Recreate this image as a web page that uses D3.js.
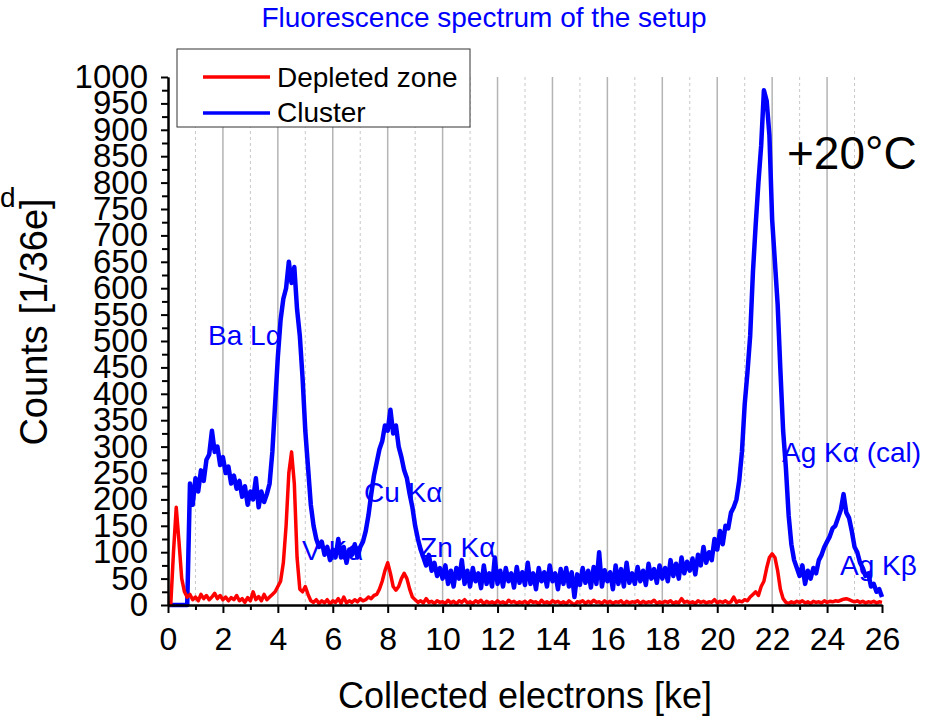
<!DOCTYPE html>
<html><head><meta charset="utf-8">
<script src="https://cdn.jsdelivr.net/npm/d3@7"></script>
<style>
body{margin:0;background:#fff}
svg{display:block}
text{font-family:"Liberation Sans",Arial,Helvetica,sans-serif}
</style>
</head><body>
<svg id="chart" width="936" height="717"></svg>
<script>
// ---- data ----
const energyStart = 0;      // ke
const energyStep = 0.1;     // ke between samples
const clusterCounts = [
  0,0,0,0,0,0,0,0,
  230,190,240,215,255,235,275,285,330,290,300,265,
  280,250,262,230,245,220,235,205,225,190,
  215,200,240,185,215,195,210,230,290,380,
  470,540,580,600,650,610,640,560,510,430,
  330,260,190,150,125,110,120,95,110,85,
  105,90,125,90,110,80,105,95,115,90,
  110,120,140,170,210,245,270,295,310,340,
  330,370,325,340,300,280,255,240,210,185,
  150,125,105,90,75,95,65,80,55,70,
  50,75,40,65,35,70,50,85,40,65,
  35,70,45,60,32,75,40,60,35,90,
  40,65,35,70,45,60,33,72,42,62,
  38,80,40,60,30,70,45,62,35,75,
  45,60,30,68,40,70,35,62,15,58,
  38,70,42,65,33,72,40,100,35,66,
  45,62,30,75,40,68,35,80,42,60,
  40,72,45,65,38,78,50,68,42,75,
  50,70,45,85,55,78,50,90,60,82,
  65,88,58,95,75,110,80,100,85,125,
  105,140,115,150,145,175,185,200,235,290,
  380,440,510,630,720,800,870,975,955,890,
  730,650,570,445,330,260,170,115,85,70,
  55,75,40,65,50,70,60,85,95,110,
  120,130,145,150,165,180,210,175,165,140,
  110,100,80,70,55,60,35,40,25,30,
  15
];
const depletedCounts = [
  0,0,100,185,120,50,25,15,20,10,
  15,8,20,12,18,10,15,22,12,18,
  10,15,8,14,10,18,8,12,5,14,
  8,25,10,16,8,20,10,15,20,25,
  35,45,80,150,250,290,230,90,30,25,
  35,20,8,5,10,3,8,4,10,2,
  8,5,12,3,15,4,8,5,10,6,
  12,8,10,15,12,18,20,30,45,65,
  80,60,35,28,35,50,60,50,30,15,
  10,5,8,4,12,5,7,3,8,5,
  6,3,9,4,7,2,8,5,10,4,
  6,3,8,5,9,2,7,4,6,3,
  8,4,6,2,9,5,7,3,6,4,
  7,3,8,5,6,2,9,4,6,3,
  8,5,7,3,6,2,8,4,0,6,
  5,8,3,7,4,9,5,6,3,8,
  4,7,3,6,5,8,2,7,4,6,
  5,8,3,7,4,6,5,9,3,6,
  4,7,5,8,3,6,4,12,5,7,
  4,6,3,8,5,7,4,6,5,10,
  4,7,5,8,4,6,15,5,8,6,
  10,8,15,20,25,18,35,45,70,90,
  97,90,65,30,12,5,3,6,4,7,
  5,8,4,6,3,7,5,6,4,8,
  5,7,6,8,7,9,11,12,10,8,
  6,8,5,7,4,6,5,7,4,6,
  5
];
const seriesNames = ["Depleted zone", "Cluster"];
const xMajorTicks = [0,2,4,6,8,10,12,14,16,18,20,22,24,26];
const xMinorTicks = [1,3,5,7,9,11,13,15,17,19,21,23,25];
const yMajorTicks = [0,50,100,150,200,250,300,350,400,450,500,550,600,650,700,750,800,850,900,950,1000];
const yMinorTicks = [25,75,125,175,225,275,325,375,425,475,525,575,625,675,725,775,825,875,925,975];
const peakLabels = ["Ba L\u03b1","V K\u03b1","Cu K\u03b1","Zn K\u03b1","Ag K\u03b1 (cal)","Ag K\u03b2"];
const peakLabelEnergy = [1.46, 4.88, 7.14, 9.18, 22.36, 24.47];
const peakLabelCount = [492, 85, 195, 91, 271, 57];

// ---- drawing ----
const svg = d3.select("#chart");
const x = d3.scaleLinear().domain([0, 26]).range([168, 882]);
const y = d3.scaleLinear().domain([0, 1000]).range([605, 77]);
const BLUE = "#0000ff", RED = "#ff0000";

// grid lines
const grid = svg.append("g");
xMajorTicks.filter(d => d > 0 && d < 26).forEach(d => {
  grid.append("line").attr("x1", x(d)).attr("x2", x(d)).attr("y1", y(1000)).attr("y2", y(0))
    .attr("stroke", "#b4b4b4").attr("stroke-width", 1.5);
});
xMinorTicks.forEach(d => {
  grid.append("line").attr("x1", x(d)).attr("x2", x(d)).attr("y1", y(1000)).attr("y2", y(0))
    .attr("stroke", "#c8c8c8").attr("stroke-width", 1).attr("stroke-dasharray", "3,3");
});

// peak labels (under the lines)
svg.append("g").selectAll("text").data(peakLabels).join("text")
  .attr("x", (d, i) => x(peakLabelEnergy[i]))
  .attr("y", (d, i) => y(peakLabelCount[i]))
  .attr("fill", BLUE).attr("font-size", 28).text(d => d);

const line = d3.line().x((d, i) => x(energyStart + i * energyStep)).y(d => y(d));
svg.append("path").datum(clusterCounts).attr("d", line)
  .attr("fill", "none").attr("stroke", BLUE).attr("stroke-width", 4.5).attr("stroke-linejoin", "round");
svg.append("path").datum(depletedCounts).attr("d", line)
  .attr("fill", "none").attr("stroke", RED).attr("stroke-width", 3.5).attr("stroke-linejoin", "round");

// axes
function styleAxis(g) {
  g.select(".domain").attr("stroke", "#000").attr("stroke-width", 2);
  g.selectAll(".tick line").attr("stroke", "#000").attr("stroke-width", 2);
  g.selectAll(".tick text").attr("fill", "#000").attr("font-family", "'Liberation Sans',Arial,sans-serif");
}
svg.append("g").attr("transform", "translate(0,605)")
  .call(d3.axisBottom(x).tickValues(xMinorTicks).tickSize(5).tickSizeOuter(0).tickFormat(""))
  .call(styleAxis);
svg.append("g").attr("transform", "translate(0,605)")
  .call(d3.axisBottom(x).tickValues(xMajorTicks).tickSize(8).tickSizeOuter(0).tickPadding(14).tickFormat(d3.format("d")))
  .call(styleAxis).attr("font-size", 32);
svg.append("g").attr("transform", "translate(168,0)")
  .call(d3.axisLeft(y).tickValues(yMinorTicks).tickSize(6).tickSizeOuter(0).tickFormat(""))
  .call(styleAxis);
svg.append("g").attr("transform", "translate(168,0)")
  .call(d3.axisLeft(y).tickValues(yMajorTicks).tickSize(7).tickSizeOuter(0).tickPadding(13).tickFormat(d3.format("d")))
  .call(styleAxis).attr("font-size", 33);

// legend
const lg = svg.append("g");
lg.append("rect").attr("x", 177).attr("y", 49).attr("width", 293).attr("height", 78)
  .attr("fill", "#fff").attr("stroke", "#333").attr("stroke-width", 1);
[RED, BLUE].forEach((c, i) => {
  lg.append("line").attr("x1", 203).attr("x2", 270).attr("y1", 77 + i * 36).attr("y2", 77 + i * 36)
    .attr("stroke", c).attr("stroke-width", 3.5);
  lg.append("text").attr("x", 277).attr("y", 87 + i * 35).attr("font-size", 28).attr("fill", "#000")
    .text(seriesNames[i]);
});

// titles and texts
svg.append("text").attr("x", 484).attr("y", 27).attr("text-anchor", "middle")
  .attr("font-size", 28).attr("fill", BLUE).text("Fluorescence spectrum of the setup");
svg.append("text").attr("x", 525).attr("y", 708).attr("text-anchor", "middle")
  .attr("font-size", 36).attr("fill", "#000").text("Collected electrons [ke]");
svg.append("text").attr("transform", "translate(47,322) rotate(-90)").attr("text-anchor", "middle")
  .attr("font-size", 38).attr("fill", "#000").text("Counts [1/36e]");
svg.append("text").attr("x", 0).attr("y", 207).attr("font-size", 28).attr("fill", "#000").text("d");
svg.append("text").attr("x", 787).attr("y", 169).attr("font-size", 46).attr("fill", "#000").text("+20\u00b0C");
</script>
</body></html>
